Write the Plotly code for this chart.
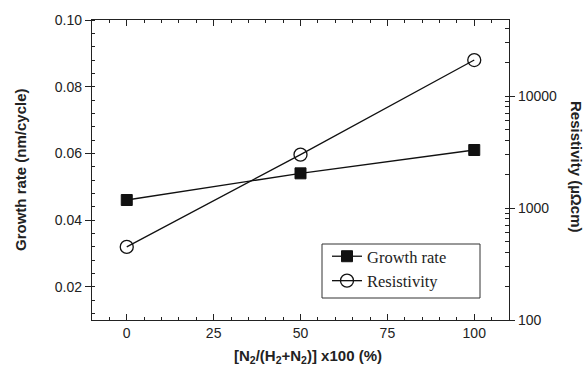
import plotly.graph_objects as go

ratio = [0, 50, 100]
growth_rate = [0.046, 0.054, 0.061]
resistivity = [450, 3000, 21000]

x_ticks = [0, 25, 50, 75, 100]
y_ticks = [0.02, 0.04, 0.06, 0.08, 0.10]
y2_ticks = [100, 1000, 10000]

L, R, T, B = 92, 509, 20, 320
W, H = 587, 374

def px(x):
    return (x - L) / (R - L)

def py(y):
    return (B - y) / (B - T)

axis_font = dict(family="Liberation Sans, Arial", size=14, color="#222")
line_c = "#222"

fig = go.Figure()
fig.add_trace(go.Scatter(
    x=ratio, y=growth_rate, name="Growth rate", mode="lines+markers",
    line=dict(color="#111", width=1.3),
    marker=dict(symbol="square", size=11, color="#111", line=dict(color="#111", width=1)),
))
fig.add_trace(go.Scatter(
    x=ratio, y=resistivity, name="Resistivity", mode="lines+markers", yaxis="y2",
    line=dict(color="#111", width=1.3),
    marker=dict(symbol="circle-open", size=13, color="#111", line=dict(color="#111", width=1.3)),
))

title_font = dict(family="Liberation Sans, Arial", size=15, color="#222")

fig.update_layout(
    width=W, height=H,
    margin=dict(l=L, r=W - R, t=T, b=H - B),
    paper_bgcolor="white", plot_bgcolor="white",
    showlegend=True,
    legend=dict(
        x=px(327), y=py(239), xanchor="left", yanchor="top",
        borderwidth=0, bgcolor="rgba(0,0,0,0)",
        font=dict(family="Liberation Serif, Times New Roman", size=16.5, color="#222"),
        tracegroupgap=0, itemwidth=30,
    ),
    shapes=[
        dict(type="rect", xref="paper", yref="paper",
             x0=px(322), x1=px(480), y0=py(298), y1=py(244),
             line=dict(color="#333", width=1), fillcolor="rgba(0,0,0,0)", layer="above"),
    ],
    xaxis=dict(
        range=[-10, 110], tickvals=x_ticks, ticktext=[str(v) for v in x_ticks],
        ticks="inside", ticklen=6, tickcolor=line_c, tickwidth=1,
        minor=dict(dtick=5, tick0=0, ticks="inside", ticklen=3, tickcolor=line_c, showgrid=False),
        showline=True, linecolor=line_c, linewidth=1.3, mirror="ticks",
        showgrid=False, zeroline=False, tickfont=axis_font,
    ),
    yaxis=dict(
        range=[0.01, 0.10], tickvals=y_ticks, ticktext=["%.2f" % v for v in y_ticks],
        ticks="outside", ticklen=6, tickcolor=line_c, tickwidth=1,
        minor=dict(dtick=0.004, tick0=0, ticks="inside", ticklen=3, tickcolor=line_c, showgrid=False),
        showline=True, linecolor=line_c, linewidth=1.3,
        showgrid=False, zeroline=False, tickfont=axis_font,
    ),
    yaxis2=dict(
        type="log", range=[2, 4.68], overlaying="y", side="right",
        tickvals=y2_ticks, ticktext=[str(v) for v in y2_ticks],
        ticks="outside", ticklen=5, tickcolor=line_c, tickwidth=1,
        minor=dict(dtick="D1", ticks="inside", ticklen=4, tickcolor=line_c, showgrid=False),
        showline=True, linecolor=line_c, linewidth=1.3,
        showgrid=False, zeroline=False, tickfont=axis_font,
    ),
    annotations=[
        dict(text="<b>Growth rate (nm/cycle)</b>", x=px(20), y=py(170), xref="paper", yref="paper",
             xanchor="center", yanchor="middle",
             textangle=-90, showarrow=False, font=title_font),
        dict(text="<b>Resistivity (µΩcm)</b>", x=px(577), y=py(167), xref="paper", yref="paper",
             xanchor="center", yanchor="middle",
             textangle=90, showarrow=False, font=title_font),
        dict(text="<b>[N<sub>2</sub>/(H<sub>2</sub>+N<sub>2</sub>)] x100 (%)</b>", x=px(308), y=py(356),
             xref="paper", yref="paper", xanchor="center", yanchor="middle", showarrow=False,
             font=title_font),
    ],
)

fig.write_html("out.html")
